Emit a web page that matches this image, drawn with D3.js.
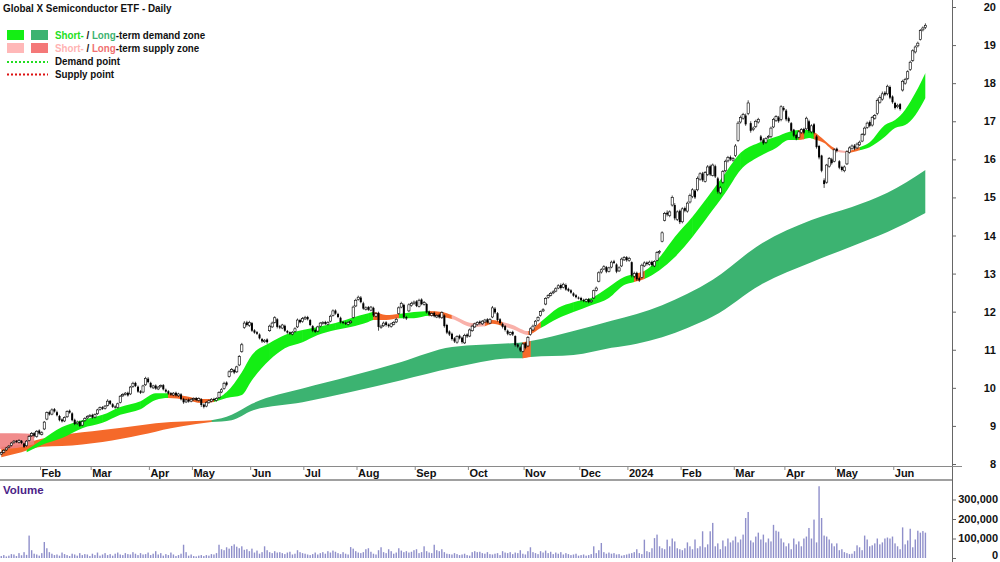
<!DOCTYPE html>
<html><head><meta charset="utf-8">
<script src="https://cdn.jsdelivr.net/npm/d3@7"></script>
<style>body{margin:0;background:#fff}svg{display:block;font-family:"Liberation Sans",Arial,sans-serif}</style>
</head><body><svg id="c" width="1000" height="562"></svg>
<script>
// ---------- DATA ----------
const title = "Global X Semiconductor ETF - Daily";
const startDate = "2023-01-09";
const endDate = "2024-06-20";
const holidays = ["2023-01-26","2023-04-07","2023-04-10","2023-04-25","2023-06-12","2023-12-25","2023-12-26",
  "2024-01-01","2024-01-26","2024-03-29","2024-04-01","2024-04-25","2024-06-10"];
const emptySlots = 10;
const monthNames = ["Jan","Feb","Mar","Apr","May","Jun","Jul","Aug","Sep","Oct","Nov","Dec"];
const priceTicks = [8,9,10,11,12,13,14,15,16,17,18,19,20];
const volumeTicks = [0,100000,200000,300000];

const close = [8.30,8.36,8.42,8.47,8.55,8.60,8.58,8.62,8.55,8.45,
8.60,8.72,8.80,8.74,8.86,8.80,8.82,9.10,9.35,9.30,
9.42,9.38,9.28,9.15,9.12,9.22,9.38,9.35,9.15,9.05,
9.10,9.00,9.12,9.20,9.25,9.28,9.22,9.30,9.42,9.48,
9.45,9.52,9.65,9.58,9.50,9.48,9.58,9.78,9.82,9.86,
9.80,10.02,10.12,10.05,9.90,9.87,10.05,10.25,10.15,10.02,
10.05,9.98,10.02,10.06,9.96,9.90,9.85,9.82,9.86,9.80,
9.84,9.70,9.62,9.68,9.64,9.70,9.72,9.68,9.72,9.55,
9.50,9.62,9.66,9.70,9.68,9.72,9.88,9.95,10.12,10.08,
10.42,10.48,10.40,10.55,10.82,11.13,11.70,11.65,11.72,11.50,
11.45,11.42,11.30,11.22,11.25,11.20,11.62,11.70,11.84,11.60,
11.58,11.65,11.50,11.45,11.42,11.46,11.55,11.78,11.72,11.82,
11.85,11.80,11.65,11.50,11.47,11.60,11.70,11.72,11.68,11.72,
11.88,12.02,11.95,11.86,11.72,11.70,11.68,11.72,11.75,12.12,
12.30,12.38,12.25,12.08,12.10,12.05,12.12,11.90,11.95,11.60,
11.62,11.70,11.65,11.62,11.68,11.72,11.80,12.10,12.22,11.85,
11.82,12.18,12.22,12.25,12.15,12.30,12.20,12.24,11.98,11.92,
11.95,11.88,11.90,11.85,11.98,11.62,11.45,11.40,11.28,11.22,
11.35,11.30,11.20,11.38,11.35,11.52,11.62,11.68,11.72,11.70,
11.75,11.78,11.72,11.80,12.10,11.98,11.78,11.70,11.60,11.52,
11.42,11.45,11.40,11.12,11.08,10.98,11.15,11.05,11.32,11.55,
11.62,11.75,11.85,12.00,12.05,12.35,12.42,12.48,12.52,12.60,
12.68,12.62,12.72,12.58,12.55,12.50,12.42,12.38,12.35,12.30,
12.28,12.32,12.25,12.30,12.55,12.62,13.02,13.10,13.18,13.05,
13.15,13.30,13.28,13.05,13.15,13.38,13.42,13.35,13.40,12.95,
13.00,12.85,12.82,13.22,13.28,13.25,13.30,13.22,13.32,13.55,
13.58,14.07,14.58,14.55,14.62,15.00,14.45,14.62,14.35,14.70,
14.65,14.85,15.05,15.20,15.00,15.50,15.62,15.45,15.65,15.80,
15.60,15.85,15.55,15.15,15.25,15.68,15.95,16.05,16.00,16.02,
16.35,16.95,17.10,17.18,16.92,17.48,16.75,16.82,17.00,17.05,
16.50,16.42,16.55,16.60,16.82,17.05,17.12,17.00,17.38,17.30,
17.05,17.00,16.75,16.62,16.55,16.72,16.78,16.70,17.08,16.75,
16.88,16.70,16.32,16.05,15.70,15.35,15.85,16.02,15.90,16.25,
16.22,15.78,15.72,15.80,16.20,16.30,16.35,16.28,16.40,16.45,
16.65,16.82,16.95,16.88,17.10,17.15,17.55,17.62,17.72,17.70,
17.92,17.62,17.50,17.35,17.42,17.32,18.05,18.10,18.30,18.55,
18.85,18.95,19.05,19.38,19.45,19.52];

const open = [8.26,8.31,8.37,8.44,8.49,8.56,8.61,8.57,8.61,8.54,
8.48,8.62,8.74,8.81,8.72,8.88,8.78,8.92,9.18,9.36,
9.31,9.44,9.36,9.26,9.17,9.13,9.24,9.40,9.33,9.16,
9.06,9.11,9.02,9.14,9.21,9.26,9.29,9.23,9.32,9.43,
9.49,9.46,9.54,9.66,9.57,9.51,9.49,9.62,9.79,9.83,
9.87,9.84,10.04,10.13,10.03,9.91,9.89,10.08,10.24,10.13,
10.00,10.06,9.97,10.03,10.07,9.95,9.91,9.86,9.81,9.87,
9.79,9.83,9.71,9.63,9.69,9.65,9.69,9.73,9.67,9.70,
9.56,9.52,9.61,9.65,9.71,9.67,9.74,9.89,9.98,10.14,
10.30,10.43,10.47,10.42,10.60,10.95,11.58,11.72,11.64,11.70,
11.51,11.46,11.40,11.28,11.21,11.27,11.50,11.60,11.72,11.80,
11.62,11.57,11.63,11.49,11.46,11.41,11.48,11.60,11.78,11.74,
11.81,11.86,11.78,11.62,11.52,11.49,11.62,11.69,11.73,11.67,
11.75,11.90,12.03,11.94,11.84,11.73,11.71,11.67,11.71,11.85,
12.15,12.32,12.37,12.22,12.06,12.12,12.04,12.10,11.88,11.97,
11.58,11.63,11.72,11.66,11.61,11.67,11.73,11.95,12.12,12.18,
11.86,12.02,12.16,12.21,12.27,12.14,12.32,12.19,12.20,12.00,
11.90,11.97,11.86,11.92,11.84,11.90,11.65,11.48,11.42,11.30,
11.20,11.37,11.32,11.18,11.40,11.36,11.50,11.60,11.66,11.74,
11.68,11.73,11.80,11.70,11.86,12.08,11.96,11.80,11.68,11.62,
11.50,11.40,11.47,11.36,11.14,11.06,10.96,11.17,11.10,11.40,
11.52,11.64,11.77,11.90,12.02,12.20,12.37,12.43,12.50,12.54,
12.62,12.70,12.64,12.70,12.60,12.56,12.48,12.43,12.37,12.36,
12.31,12.27,12.33,12.26,12.36,12.56,12.80,13.04,13.12,13.17,
13.06,13.17,13.32,13.24,13.07,13.20,13.36,13.43,13.34,13.30,
12.93,13.02,12.88,12.90,13.20,13.29,13.24,13.31,13.20,13.35,
13.55,13.85,14.40,14.60,14.52,14.80,14.80,14.42,14.65,14.36,
14.72,14.64,14.88,15.02,15.18,15.20,15.48,15.63,15.42,15.60,
15.82,15.58,15.82,15.50,15.12,15.40,15.70,15.96,16.06,15.98,
16.10,16.50,16.98,17.08,17.15,17.20,16.95,16.78,16.86,16.98,
16.60,16.52,16.45,16.58,16.60,16.85,17.02,17.10,17.05,17.35,
17.28,17.08,16.95,16.78,16.64,16.58,16.70,16.80,16.80,17.00,
16.72,16.92,16.60,16.35,16.10,15.45,15.40,15.82,16.00,15.95,
16.28,15.95,15.80,15.70,15.88,16.18,16.28,16.36,16.30,16.38,
16.48,16.66,16.84,16.98,16.90,17.08,17.20,17.50,17.58,17.75,
17.72,17.90,17.65,17.48,17.38,17.45,17.82,18.00,18.12,18.36,
18.60,18.82,18.98,19.15,19.40,19.46];

const high = [8.33,8.39,8.45,8.50,8.58,8.63,8.63,8.65,8.63,8.56,
8.63,8.76,8.84,8.84,8.89,8.91,8.86,9.13,9.38,9.40,
9.46,9.47,9.40,9.29,9.20,9.25,9.41,9.43,9.36,9.19,
9.14,9.14,9.15,9.23,9.28,9.31,9.32,9.33,9.45,9.51,
9.52,9.55,9.70,9.68,9.60,9.54,9.61,9.81,9.86,9.89,
9.90,10.05,10.16,10.16,10.06,9.94,10.08,10.29,10.28,10.16,
10.08,10.09,10.05,10.09,10.10,9.98,9.94,9.89,9.89,9.90,
9.87,9.86,9.74,9.71,9.72,9.73,9.75,9.76,9.75,9.73,
9.59,9.65,9.69,9.73,9.74,9.75,9.91,9.99,10.16,10.17,
10.46,10.52,10.50,10.58,10.86,11.18,11.75,11.76,11.76,11.73,
11.54,11.49,11.43,11.31,11.28,11.30,11.66,11.74,11.88,11.83,
11.65,11.68,11.66,11.52,11.48,11.49,11.59,11.82,11.81,11.86,
11.89,11.89,11.81,11.65,11.55,11.63,11.73,11.75,11.76,11.75,
11.92,12.06,12.06,11.97,11.87,11.76,11.74,11.75,11.78,12.16,
12.34,12.42,12.41,12.26,12.14,12.15,12.15,12.13,11.99,12.00,
11.66,11.74,11.75,11.69,11.71,11.75,11.84,12.14,12.26,12.21,
11.89,12.22,12.26,12.29,12.30,12.34,12.35,12.28,12.23,12.03,
11.98,12.00,11.93,11.95,12.01,11.93,11.68,11.51,11.45,11.33,
11.38,11.40,11.35,11.42,11.43,11.56,11.66,11.71,11.75,11.77,
11.78,11.81,11.83,11.83,12.15,12.12,11.99,11.83,11.71,11.65,
11.53,11.48,11.50,11.38,11.17,11.09,11.18,11.20,11.36,11.59,
11.66,11.78,11.88,12.03,12.09,12.38,12.46,12.52,12.56,12.64,
12.72,12.74,12.76,12.74,12.63,12.59,12.51,12.46,12.40,12.39,
12.34,12.35,12.36,12.33,12.58,12.66,13.06,13.14,13.22,13.20,
13.18,13.34,13.36,13.27,13.19,13.42,13.46,13.46,13.44,13.32,
13.05,13.05,12.92,13.26,13.32,13.32,13.34,13.34,13.35,13.59,
13.62,14.11,14.62,14.66,14.66,15.05,14.85,14.66,14.68,14.74,
14.76,14.89,15.10,15.24,15.22,15.55,15.66,15.67,15.69,15.85,
15.86,15.89,15.86,15.54,15.30,15.72,15.99,16.09,16.10,16.06,
16.40,17.00,17.15,17.22,17.20,17.55,17.00,16.86,17.04,17.09,
16.64,16.56,16.58,16.64,16.86,17.09,17.16,17.14,17.42,17.40,
17.32,17.12,16.98,16.80,16.67,16.76,16.82,16.83,17.12,17.04,
16.92,16.95,16.64,16.38,16.12,15.50,15.88,16.06,16.04,16.29,
16.31,15.98,15.83,15.84,16.24,16.34,16.39,16.40,16.44,16.49,
16.69,16.86,16.99,17.02,17.14,17.19,17.60,17.68,17.78,17.79,
17.96,17.94,17.68,17.51,17.46,17.48,18.09,18.14,18.34,18.59,
18.89,18.99,19.09,19.42,19.49,19.57];

const low = [8.23,8.28,8.34,8.41,8.46,8.53,8.55,8.54,8.52,8.42,
8.45,8.59,8.71,8.70,8.69,8.77,8.75,8.89,9.15,9.27,
9.28,9.35,9.25,9.12,9.09,9.10,9.21,9.32,9.12,9.02,
9.03,8.97,8.99,9.11,9.18,9.23,9.19,9.20,9.29,9.40,
9.42,9.43,9.51,9.55,9.47,9.45,9.46,9.59,9.76,9.80,
9.77,9.81,10.00,10.02,9.87,9.84,9.86,10.05,10.12,9.99,
9.97,9.95,9.94,10.00,9.93,9.87,9.82,9.79,9.78,9.77,
9.76,9.67,9.58,9.60,9.61,9.62,9.66,9.65,9.64,9.50,
9.46,9.49,9.58,9.62,9.65,9.64,9.71,9.86,9.95,10.04,
10.27,10.40,10.36,10.39,10.57,10.92,11.55,11.61,11.60,11.47,
11.42,11.39,11.27,11.18,11.18,11.16,11.47,11.57,11.69,11.56,
11.54,11.54,11.47,11.42,11.39,11.38,11.45,11.57,11.69,11.71,
11.78,11.77,11.62,11.46,11.44,11.46,11.59,11.66,11.65,11.64,
11.72,11.87,11.92,11.83,11.69,11.67,11.65,11.64,11.68,11.82,
12.12,12.29,12.22,12.05,12.03,12.02,12.01,11.86,11.85,11.50,
11.55,11.60,11.61,11.58,11.58,11.64,11.70,11.92,12.09,11.81,
11.78,11.99,12.13,12.18,12.12,12.11,12.17,12.16,11.95,11.88,
11.87,11.85,11.83,11.82,11.81,11.58,11.41,11.36,11.24,11.18,
11.16,11.27,11.16,11.15,11.31,11.33,11.47,11.57,11.63,11.66,
11.65,11.70,11.69,11.67,11.83,11.94,11.74,11.66,11.56,11.48,
11.38,11.37,11.36,11.08,11.04,10.94,10.93,11.01,11.07,11.37,
11.49,11.61,11.74,11.87,11.99,12.17,12.34,12.40,12.46,12.51,
12.59,12.58,12.61,12.55,12.52,12.47,12.39,12.35,12.32,12.27,
12.25,12.24,12.22,12.23,12.33,12.53,12.77,13.00,13.09,13.01,
13.03,13.14,13.25,13.01,13.04,13.17,13.33,13.31,13.31,12.90,
12.88,12.81,12.78,12.87,13.17,13.21,13.21,13.18,13.17,13.32,
13.51,13.82,14.37,14.50,14.48,14.76,14.40,14.38,14.30,14.32,
14.61,14.60,14.84,14.98,14.96,15.16,15.44,15.41,15.39,15.56,
15.56,15.55,15.51,15.10,15.08,15.36,15.66,15.92,15.96,15.94,
16.06,16.46,16.94,17.04,16.88,17.16,16.70,16.74,16.82,16.94,
16.46,16.38,16.41,16.54,16.56,16.82,16.98,16.96,17.00,17.26,
17.00,16.96,16.71,16.58,16.50,16.55,16.67,16.66,16.77,16.70,
16.68,16.66,16.28,16.00,15.66,15.25,15.36,15.78,15.86,15.92,
16.18,15.74,15.68,15.66,15.85,16.15,16.25,16.24,16.27,16.35,
16.45,16.62,16.80,16.84,16.86,17.04,17.16,17.46,17.54,17.66,
17.68,17.58,17.46,17.31,17.34,17.28,17.78,17.96,18.08,18.32,
18.56,18.78,18.94,19.12,19.36,19.42];

const volume = [10000,15000,8000,12000,20000,18000,10000,25000,14000,30000,
16000,115000,40000,22000,18000,12000,25000,82000,50000,30000,
22000,15000,18000,12000,28000,20000,15000,10000,22000,18000,
12000,25000,15000,20000,18000,10000,22000,15000,28000,12000,
18000,25000,15000,20000,12000,22000,28000,18000,15000,25000,
20000,18000,30000,22000,15000,25000,18000,20000,28000,15000,
22000,35000,18000,25000,12000,20000,15000,28000,18000,10000,
15000,22000,68000,30000,12000,18000,10000,8000,12000,15000,
10000,15000,12000,20000,18000,25000,68000,45000,40000,55000,
48000,62000,70000,58000,50000,60000,42000,45000,35000,48000,
28000,38000,22000,30000,60000,40000,30000,25000,35000,28000,
30000,25000,20000,28000,32000,18000,22000,40000,30000,25000,
22000,18000,15000,20000,28000,18000,25000,30000,22000,35000,
28000,38000,32000,25000,20000,30000,22000,18000,56000,48000,
35000,28000,25000,30000,45000,50000,32000,22000,18000,40000,
55000,30000,25000,45000,35000,22000,28000,50000,38000,30000,
35000,28000,32000,40000,45000,25000,30000,60000,35000,28000,
25000,68000,40000,35000,45000,30000,22000,20000,18000,25000,
20000,15000,18000,22000,15000,12000,30000,35000,30000,32000,
25000,22000,30000,20000,18000,22000,25000,15000,35000,28000,
25000,30000,20000,28000,25000,40000,22000,18000,35000,55000,
30000,25000,20000,35000,28000,38000,25000,32000,20000,28000,
22000,30000,18000,25000,20000,15000,18000,22000,12000,15000,
18000,12000,15000,20000,60000,25000,40000,77000,30000,22000,
28000,22000,25000,18000,20000,12000,15000,18000,22000,25000,
30000,45000,25000,20000,94000,35000,30000,50000,102000,120000,
60000,50000,45000,94000,60000,100000,85000,50000,45000,40000,
50000,80000,60000,45000,95000,50000,60000,137000,55000,70000,
137000,180000,60000,75000,45000,90000,60000,100000,80000,90000,
110000,80000,95000,120000,205000,236000,90000,80000,110000,130000,
95000,120000,80000,100000,85000,170000,140000,135000,100000,80000,
60000,75000,45000,100000,70000,85000,60000,100000,110000,154000,
100000,197000,80000,368000,205000,115000,110000,95000,75000,60000,
75000,40000,45000,30000,25000,20000,22000,35000,65000,55000,
40000,115000,95000,60000,65000,75000,100000,70000,80000,100000,
105000,100000,110000,75000,60000,45000,157000,70000,90000,150000,
55000,95000,140000,130000,138000,130000];

// short-term zone band (sampled by bar number)
const stIdx = [10,16,24,32,40,47,55,61,66,73,79,84,89,95,99,106,112,119,125,132,138,145,147,152,157,163,169,174,178,186,
191,194,198,202,208,213,220,226,233,240,246,250,254,260,266,273,279,286,292,299,306,311,315,317,319,321,325,329,334,339,
343,349,353,357,361,365];
const stTop = [8.37,8.63,8.97,9.15,9.29,9.50,9.65,9.86,9.86,9.78,9.71,9.71,9.89,10.41,10.86,11.18,11.39,11.52,11.60,11.70,
11.83,11.96,11.99,11.91,11.94,11.99,12.02,11.99,11.91,11.70,11.73,11.78,11.73,11.65,11.49,11.73,12.10,12.25,12.36,12.65,
12.91,12.99,13.07,13.43,13.96,14.49,15.01,15.64,16.17,16.43,16.59,16.72,16.77,16.77,16.77,16.72,16.51,16.30,16.22,16.32,
16.45,16.90,17.03,17.30,17.74,18.27];
const stBot = [8.31,8.50,8.68,8.94,9.08,9.29,9.44,9.68,9.73,9.68,9.60,9.63,9.73,9.81,10.20,10.73,11.04,11.20,11.39,11.52,
11.60,11.73,11.78,11.78,11.83,11.83,11.89,11.86,11.81,11.60,11.62,11.68,11.62,11.54,11.39,11.57,11.83,11.99,12.17,12.36,
12.70,12.78,12.86,13.09,13.43,13.96,14.49,15.12,15.72,16.06,16.30,16.51,16.51,16.53,16.56,16.53,16.43,16.22,16.17,16.24,
16.32,16.59,16.82,16.90,17.16,17.61];
// zone of the segment that starts at each sample: d = demand, s = supply, o = price inside zone
const stZone = ["dddddddd","ooo","ddddddddddd","oo","dd","oo","ss","oo","ss","o","dddddd","o","dddddddddd","o","dd","oo","s","o","ddddddd"].join("").split("");

// long-term zone band
const ltIdx = [0,8,16,24,40,55,67,77,83,91,99,119,138,158,178,203,206,209,226,241,251,261,271,281,300,320,336,350,365];
const ltTop = [8.45,8.52,8.66,8.76,8.89,9.02,9.10,9.13,9.15,9.29,9.58,9.98,10.31,10.68,11.07,11.18,11.20,11.23,11.49,11.76,11.94,12.17,12.47,12.84,13.78,14.41,14.75,15.12,15.72];
const ltBot = [8.18,8.31,8.45,8.47,8.58,8.76,8.94,9.05,9.10,9.15,9.40,9.62,9.89,10.20,10.52,10.78,10.78,10.81,10.86,11.05,11.16,11.33,11.57,11.87,12.71,13.30,13.72,14.09,14.59];
const ltZone = ["oooooooo","dddddddd","o","dddddddddddd"].join("").split("");
// long-term supply block at the start
const ltSupIdx = [0,6,13];
const ltSupTop = [8.81,8.81,8.79];
const ltSupBot = [8.39,8.42,8.52];

// ---------- DRAW ----------
const svg = d3.select("#c");
const FONT = "'Liberation Sans',Arial,sans-serif";
const plotRight = 952;
const hol = new Set(holidays);
const dates = [];
for (let t = Date.parse(startDate+"T00:00:00Z"); t <= Date.parse(endDate+"T00:00:00Z"); t += 86400000) {
  const d = new Date(t), wd = d.getUTCDay(), s = d.toISOString().slice(0,10);
  if (wd === 0 || wd === 6 || hol.has(s)) continue;
  dates.push(s);
}
const N = close.length;
const x = d3.scaleBand().domain(d3.range(N + emptySlots)).range([0, plotRight]);
const bw = x.bandwidth();
const xc = i => x(i) + bw/2;
const y = d3.scaleLinear().domain([8,20]).range([464,7]);
const yv = d3.scaleLinear().domain([0,400000]).range([558,480]);

const stColors = {d:"#14ee14", o:"#f5692a", s:"#f9b1aa"};
const ltColors = {d:"#3cb371", o:"#f5692a", s:"#f08080"};
const defs = svg.append("defs");

function drawBand(name, idx, top, bot, zones, colors) {
  const pts = idx.map((v,k)=>({i:v, t:top[k], b:bot[k]}));
  const area = d3.area().x(d=>xc(d.i)).y0(d=>y(d.b)).y1(d=>y(d.t)).curve(d3.curveMonotoneX);
  const path = area(pts);
  Object.keys(colors).forEach(z => {
    const segs = [];
    for (let k=0;k<idx.length-1;k++) if (zones[k]===z) segs.push([xc(idx[k]), xc(idx[k+1])]);
    if (!segs.length) return;
    const cp = defs.append("clipPath").attr("id", name+z);
    segs.forEach(s => cp.append("rect").attr("x", s[0]-0.3).attr("y",0).attr("width", s[1]-s[0]+0.6).attr("height",470));
    svg.append("path").attr("d", path).attr("fill", colors[z]).attr("clip-path", `url(#${name+z})`);
  });
}
drawBand("lt", ltIdx, ltTop, ltBot, ltZone, ltColors);
svg.append("path")
  .attr("d", d3.area().x((d,k)=>k===0? 0 : xc(d)).y0((d,k)=>y(ltSupBot[k])).y1((d,k)=>y(ltSupTop[k])).curve(d3.curveMonotoneX)(ltSupIdx))
  .attr("fill", ltColors.s).attr("opacity",0.9);
drawBand("st", stIdx, stTop, stBot, stZone, stColors);

// candles
const cg = svg.append("g");
d3.range(N).forEach(i => {
  const up = close[i] >= open[i];
  cg.append("line").attr("x1", xc(i)).attr("x2", xc(i)).attr("y1", y(high[i])).attr("y2", y(low[i]))
    .attr("stroke","#000").attr("stroke-width",0.7);
  const y0 = y(Math.max(open[i], close[i])), h = Math.max(1, Math.abs(y(open[i]) - y(close[i])));
  cg.append("rect").attr("x", xc(i) - (up?1.1:1)).attr("width", up?2.2:2).attr("y", y0).attr("height", h)
    .attr("fill", up ? "#fff" : "#000").attr("stroke", up ? "#000" : "none").attr("stroke-width", 0.6);
});

// volume bars
svg.append("g").selectAll("rect").data(volume).join("rect")
  .attr("x", (v,i)=>xc(i)-0.7).attr("width",1.4)
  .attr("y", v=>yv(v)).attr("height", v=>yv(0)-yv(v)).attr("fill","#8f8fca");

// date strip
svg.append("line").attr("x1",0).attr("x2",plotRight).attr("y1",466.5).attr("y2",466.5).attr("stroke","#8a8a8a");
svg.append("line").attr("x1",0).attr("x2",plotRight).attr("y1",480).attr("y2",480).attr("stroke","#a0a0a0").attr("stroke-width",2);
const monthIdx = d3.range(1, N).filter(i => dates[i].slice(5,7) !== dates[i-1].slice(5,7));
const xAxis = d3.axisBottom(x).tickValues(monthIdx).tickSize(3).tickPadding(0)
  .tickFormat(i => dates[i].slice(5,7) === "01" ? dates[i].slice(0,4) : monthNames[+dates[i].slice(5,7)-1]);
const gx = svg.append("g").attr("transform","translate(0,467)").call(xAxis);
gx.select(".domain").remove();
gx.selectAll(".tick").attr("transform", i => `translate(${x(i)},0)`);
gx.selectAll(".tick line").attr("stroke","#8a8a8a");
gx.selectAll(".tick text").attr("text-anchor","start").attr("x",1).attr("y",2).attr("dy","0.71em")
  .attr("font-size",11).attr("font-weight","bold").attr("fill","#111").attr("font-family",FONT);

// right price axis
svg.append("line").attr("x1",plotRight+0.5).attr("x2",plotRight+0.5).attr("y1",0).attr("y2",562).attr("stroke","#666");
const gy = svg.append("g").attr("transform",`translate(${plotRight},0)`).call(d3.axisRight(y).tickValues(priceTicks).tickSize(4).tickFormat(d3.format("d")));
gy.select(".domain").remove();
gy.selectAll(".tick line").attr("stroke","#666");
gy.selectAll(".tick text").attr("text-anchor","end").attr("x",44).attr("font-size",11).attr("font-weight","bold").attr("fill","#111")
  .attr("font-family",FONT);
svg.append("line").attr("x1",plotRight).attr("x2",962).attr("y1",466.5).attr("y2",466.5).attr("stroke","#8a8a8a");

// volume axis
const gv = svg.append("g").attr("transform",`translate(${plotRight},0)`).call(d3.axisRight(yv).tickValues(volumeTicks).tickSize(4).tickFormat(d3.format(",")));
gv.select(".domain").remove();
gv.selectAll(".tick line").attr("stroke","#666");
gv.selectAll(".tick text").attr("text-anchor","end").attr("x",46).attr("font-size",11).attr("font-weight","bold").attr("fill","#111")
  .attr("font-family",FONT).attr("dy", v => v === 0 ? "0.05em" : "0.3em");
svg.append("text").attr("x",3).attr("y",494).text("Volume").attr("font-size",11.5).attr("font-weight","bold").attr("fill","#4b2287");

// title + legend (narrow Arial look via horizontal scaling)
svg.append("text").attr("transform","translate(3,12) scale(0.86,1)").text(title)
  .attr("font-size",11.5).attr("font-weight","bold").attr("fill","#111");
const lg = svg.append("g");
lg.append("rect").attr("x",7).attr("y",30).attr("width",17).attr("height",10).attr("fill",stColors.d);
lg.append("rect").attr("x",31).attr("y",30).attr("width",17).attr("height",10).attr("fill",ltColors.d);
lg.append("rect").attr("x",7).attr("y",43).attr("width",17).attr("height",10).attr("fill","#ffb8b8");
lg.append("rect").attr("x",31).attr("y",43).attr("width",17).attr("height",10).attr("fill","#f47878");
function legendText(yy, parts) {
  const t = lg.append("text").attr("transform",`translate(55,${yy}) scale(0.85,1)`).attr("font-size",11.5).attr("font-weight","bold");
  parts.forEach(p => t.append("tspan").text(p[0]).attr("fill",p[1]));
}
legendText(39, [["Short-","#22e022"],[" / ","#111"],["Long","#3cb371"],["-term demand zone","#111"]]);
legendText(52, [["Short-","#ffb3b3"],[" / ","#111"],["Long","#f07070"],["-term supply zone","#111"]]);
lg.append("line").attr("x1",7).attr("x2",48).attr("y1",62).attr("y2",62).attr("stroke","#22dd22").attr("stroke-width",2).attr("stroke-dasharray","2,2");
lg.append("line").attr("x1",7).attr("x2",48).attr("y1",74.5).attr("y2",74.5).attr("stroke","#dd1111").attr("stroke-width",2).attr("stroke-dasharray","2,2");
legendText(65, [["Demand point","#111"]]);
legendText(78, [["Supply point","#111"]]);
</script></body></html>
